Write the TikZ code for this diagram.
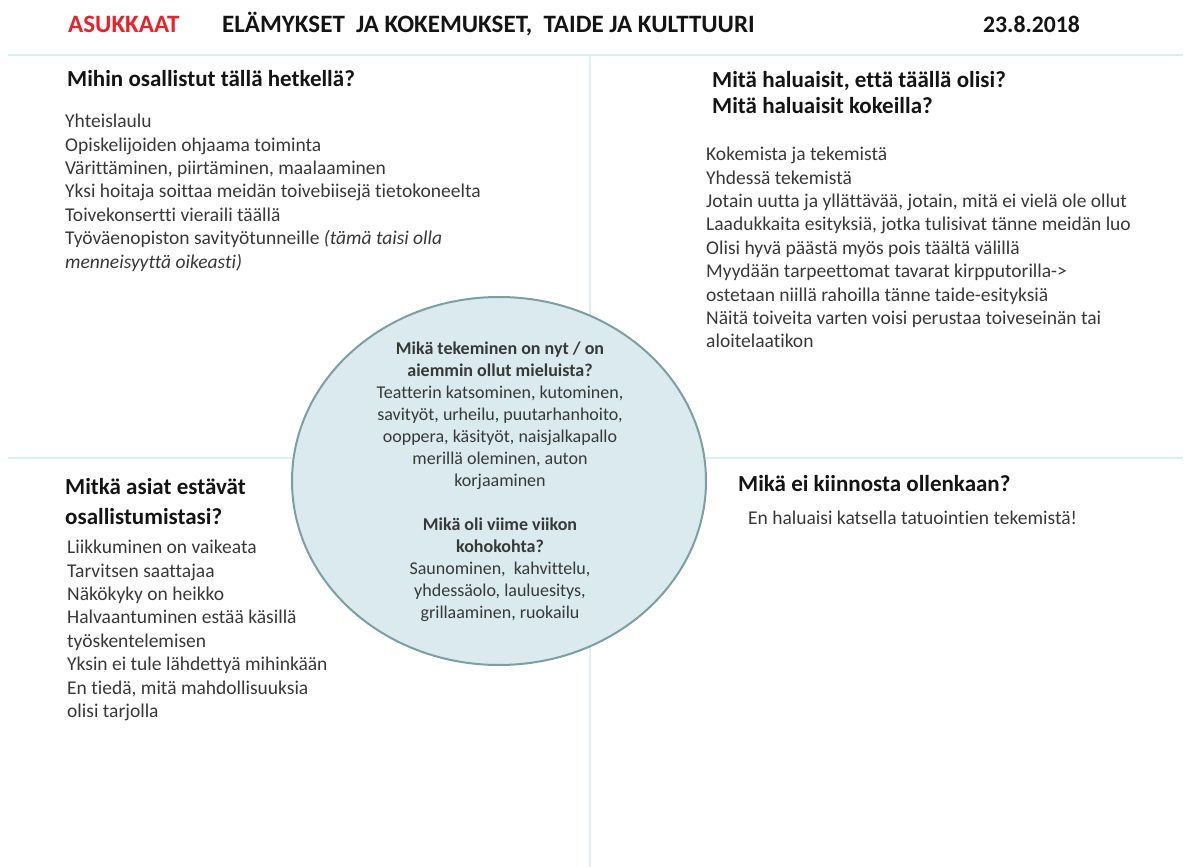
\documentclass[tikz,border=0pt]{standalone}
\usepackage{fontspec}
\setmainfont{Carlito}[Ligatures=NoCommon]
\usetikzlibrary{shapes.geometric}
\definecolor{viiva}{HTML}{DDEEF2}
\definecolor{pallo}{HTML}{DAEAEE}
\definecolor{reuna}{HTML}{7C9FA3}
\definecolor{punainen}{HTML}{E8212B}
\definecolor{harmaa}{HTML}{383838}
\tikzset{
  otsikko/.style={font=\fontsize{23}{26}\selectfont\bfseries, text=black!92, inner sep=0pt, align=left},
  paaotsikko/.style={otsikko, font=\fontsize{25}{28}\selectfont\bfseries, anchor=base west},
  teksti/.style={font=\fontsize{19.5}{23.4}\selectfont, text=harmaa, inner sep=0pt, align=left},
  keski/.style={font=\fontsize{18}{22}\selectfont, text=harmaa, inner sep=0pt, align=center},
  jako/.style={draw=viiva, line width=2.5pt}
}

\begin{document}
\begin{tikzpicture}[x=1pt, y=-1pt]
            \useasboundingbox (0,0) rectangle (1187,867);
            \coordinate (ylav) at (8,55);
            \coordinate (ylao) at (1183,55);
            \coordinate (keskiv) at (8,458);
            \coordinate (keskio) at (1183,458);
            \coordinate (pysty) at (590,55);
            \coordinate (pohja) at (590,867);
            \draw[jako] (ylav) -- (ylao);
            \draw[jako] (keskiv) -- (keskio);
            \draw[jako] (pysty) -- (pohja);

            \node[paaotsikko, text=punainen] (asukkaat) at (68,33) {ASUKKAAT};
            \node[paaotsikko] (aihe) at (222,33) {ELÄMYKSET\ \ JA KOKEMUKSET,\ \ TAIDE JA KULTTUURI};
            \node[paaotsikko, font=\fontsize{23.7}{28}\selectfont\bfseries] (pvm) at (983,33) {23.8.2018};

            \node[otsikko, anchor=base west] (nyt) at (67,87) {Mihin osallistut tällä hetkellä?};
            \node[teksti, anchor=north west] (nytlista) at (65,114) {Yhteislaulu\\
              Opiskelijoiden ohjaama toiminta\\
              Värittäminen, piirtäminen, maalaaminen\\
              Yksi hoitaja soittaa meidän toivebiisejä tietokoneelta\\
              Toivekonsertti vieraili täällä\\
              Työväenopiston savityötunneille \textit{(tämä taisi olla}\\
              \textit{menneisyyttä oikeasti)}};

            \node[otsikko, anchor=north west] (toive) at (712,71) {Mitä haluaisit, että täällä olisi?\\Mitä haluaisit kokeilla?};
            \node[teksti, anchor=north west] (toivelista) at (706,147) {Kokemista ja tekemistä\\
              Yhdessä tekemistä\\
              Jotain uutta ja yllättävää, jotain, mitä ei vielä ole ollut\\
              Laadukkaita esityksiä, jotka tulisivat tänne meidän luo\\
              Olisi hyvä päästä myös pois täältä välillä\\
              Myydään tarpeettomat tavarat kirpputorilla->\\
              ostetaan niillä rahoilla tänne taide-esityksiä\\
              Näitä toiveita varten voisi perustaa toiveseinän tai\\
              aloitelaatikon};

            \node[otsikko, anchor=north west, font=\fontsize{23}{30}\selectfont\bfseries] (este) at (65,478) {Mitkä asiat estävät\\osallistumistasi?};
            \node[teksti, anchor=north west] (estelista) at (67,540) {Liikkuminen on vaikeata\\
              Tarvitsen saattajaa\\
              Näkökyky on heikko\\
              Halvaantuminen estää käsillä\\
              työskentelemisen\\
              Yksin ei tule lähdettyä mihinkään\\
              En tiedä, mitä mahdollisuuksia\\
              olisi tarjolla};

            \node[otsikko, anchor=base west] (ei) at (738,491) {Mikä ei kiinnosta ollenkaan?};
            \node[teksti, anchor=base west] (eilista) at (748,524) {En haluaisi katsella tatuointien tekemistä!};

            \node[ellipse, draw=reuna, fill=pallo, line width=2pt, minimum width=414pt, minimum height=368pt] (mieli) at (499,481) {};
            \node[keski, anchor=north] (mieliteksti) at (500,342) {\textbf{Mikä tekeminen on nyt / on}\\
              \textbf{aiemmin ollut mieluista?}\\
              Teatterin katsominen, kutominen,\\
              savityöt, urheilu, puutarhanhoito,\\
              ooppera, käsityöt, naisjalkapallo\\
              merillä oleminen, auton\\
              korjaaminen\\[22pt]
              \textbf{Mikä oli viime viikon}\\
              \textbf{kohokohta?}\\
              Saunominen,\ \ kahvittelu,\\
              yhdessäolo, lauluesitys,\\
              grillaaminen, ruokailu};
          \end{tikzpicture}
\end{document}
